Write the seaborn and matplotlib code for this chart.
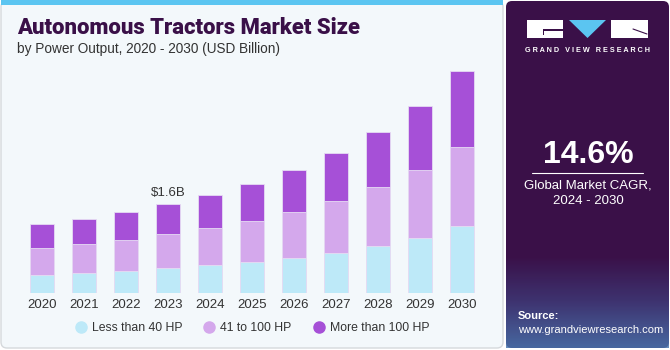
import numpy as np
import seaborn as sns
import matplotlib.pyplot as plt
from matplotlib.patches import FancyBboxPatch, Rectangle, Polygon
from matplotlib.lines import Line2D

# Values (USD Billion)
years = ["2020", "2021", "2022", "2023", "2024", "2025", "2026", "2027", "2028", "2029", "2030"]
less_40 = [0.33, 0.36, 0.40, 0.45, 0.50, 0.56, 0.63, 0.73, 0.85, 1.00, 1.20]
hp_41_100 = [0.49, 0.52, 0.56, 0.61, 0.67, 0.74, 0.83, 0.93, 1.06, 1.22, 1.43]
more_100 = [0.42, 0.45, 0.50, 0.54, 0.60, 0.67, 0.76, 0.86, 0.99, 1.16, 1.37]
series_names = ["Less than 40 HP", "41 to 100 HP", "More than 100 HP"]
series_colors = ["#bde9f8", "#d4a8ec", "#a650d7"]

sns.set_theme(style="white")
plt.rcParams['font.family'] = ['Liberation Sans', 'DejaVu Sans']

fig = plt.figure(figsize=(6.7, 3.5), dpi=100)
fig.patch.set_facecolor("white")

# Background panels drawn in pixel coordinates
bg = fig.add_axes([0, 0, 1, 1])
bg.set_xlim(0, 670)
bg.set_ylim(350, 0)
bg.axis("off")
bg.add_patch(FancyBboxPatch((1, 1), 502, 347, boxstyle="round,pad=0,rounding_size=6",
                            facecolor="#f3f8fb", edgecolor="#d5d9dc", lw=1))
bg.add_patch(Rectangle((1, 0), 502, 5, facecolor="#5bc5f1", edgecolor="none"))
bg.add_patch(FancyBboxPatch((506, 1), 163, 347, boxstyle="round,pad=0,rounding_size=6",
                            facecolor="#3a1048", edgecolor="none"))
# bottom gradient of the side panel
grad = np.linspace(0, 1, 100).reshape(-1, 1)
bg.imshow(grad, extent=(506, 669, 348, 255),
          cmap=sns.blend_palette(["#3a1048", "#3f3a78", "#4a78b0"], as_cmap=True),
          aspect="auto", alpha=0.85, zorder=1)
bg.set_xlim(0, 670)
bg.set_ylim(350, 0)

# Logo
bg.add_patch(Rectangle((527, 20), 36, 18, facecolor="white", edgecolor="none", zorder=3))
bg.add_patch(Rectangle((543, 29), 20, 1.5, facecolor="#3a1048", edgecolor="none", zorder=4))
bg.add_patch(Rectangle((543, 29), 1.2, 6, facecolor="#3a1048", edgecolor="none", zorder=4))
bg.add_patch(Polygon([(569, 20), (606, 20), (587.5, 38)], closed=True, facecolor="#5bc5f1",
                     edgecolor="none", zorder=3))
bg.add_patch(Rectangle((611, 20), 37, 18, facecolor="white", edgecolor="none", zorder=3))
bg.plot([633, 647], [29, 34], color="#3a1048", lw=0.8, zorder=4)
bg.text(587.5, 51, "G R A N D   V I E W   R E S E A R C H", color="white", fontsize=5.2,
        fontweight="bold", ha="center", va="center", zorder=4)

bg.text(588, 155, "14.6%", color="white", fontsize=23, fontweight="bold", ha="center", va="center", zorder=4)
bg.plot([532, 643], [173, 173], color="white", lw=0.8, zorder=4)
bg.text(588, 185, "Global Market CAGR,", color="white", fontsize=9.5, ha="center", va="center", zorder=4)
bg.text(588, 201, "2024 - 2030", color="white", fontsize=9.5, ha="center", va="center", zorder=4)
bg.text(518, 316, "Source:", color="white", fontsize=8, fontweight="bold", ha="left", va="center", zorder=4)
bg.text(518, 330, "www.grandviewresearch.com", color="white", fontsize=8, ha="left", va="center", zorder=4)

# Titles
bg.text(17, 28, "Autonomous Tractors Market Size", color="#3a1048", fontsize=15.8,
        fontweight="black", family=["Roboto", "DejaVu Sans"], ha="left", va="center")
bg.text(17, 49, "by Power Output, 2020 - 2030 (USD Billion)", color="#333333", fontsize=9.8,
        ha="left", va="center")

# Stacked bars: draw cumulative totals from the top down
ax = fig.add_axes([0.0251, 0.1629, 0.702, 0.665])
ax.patch.set_alpha(0)
cum = np.cumsum([less_40, hp_41_100, more_100], axis=0)
for level in [2, 1, 0]:
    sns.barplot(x=years, y=cum[level], color=series_colors[level], width=0.555, saturation=1,
                edgecolor="#e6dcf3", linewidth=0.6, ax=ax)

ax.set_xlim(-0.6, 10.6)
ax.set_ylim(0, 4.2)
ax.set_yticks([])
ax.set_xlabel("")
ax.set_ylabel("")
sns.despine(ax=ax, left=True, bottom=True)
ax.tick_params(axis="x", length=0, pad=4, labelsize=9.5, labelcolor="#333333")

ax.text(3, cum[2][3] + 0.1, "$1.6B", ha="center", va="bottom", fontsize=9.5, color="#333333")

handles = [Line2D([0], [0], marker="o", linestyle="none", markersize=8,
                  markerfacecolor=c, markeredgecolor=c) for c in series_colors]
fig.legend(handles, series_names, loc="center", bbox_to_anchor=(252 / 670, 1 - 328 / 350),
           ncol=3, frameon=False, fontsize=8.8, handlelength=1.0, handletextpad=0.4,
           columnspacing=1.7, labelcolor="#333333")

fig.savefig("out.png", dpi=100)
